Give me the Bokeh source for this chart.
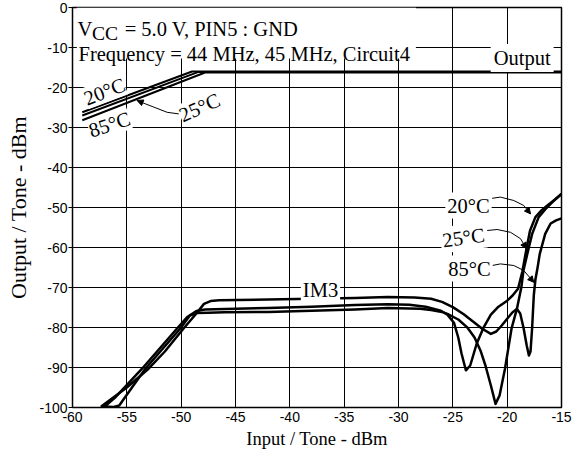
from bokeh.plotting import figure
from bokeh.models import Label, BoxAnnotation, Arrow, NormalHead, Range1d, PrintfTickFormatter
from bokeh.embed import file_html
from bokeh.resources import INLINE

# ---- axes ----
x_ticks = [-60, -55, -50, -45, -40, -35, -30, -25, -20, -15]
y_ticks = [0, -10, -20, -30, -40, -50, -60, -70, -80, -90, -100]

# ---- Output / Tone curves ----
out20_x = [-59.1, -49.0, -15.0]
out20_y = [-26.2, -16.0, -16.0]
out25_x = [-59.1, -48.4, -15.0]
out25_y = [-27.0, -16.1, -16.1]
out85_x = [-59.1, -47.8, -15.0]
out85_y = [-28.2, -16.25, -16.25]

# ---- IM3 curves ----
im3_20_x = [-57.1, -56.0, -53.6, -50.4, -49.4, -48.6, -47.8, -45.0, -42.0, -38.0, -34.0,
            -31.0, -29.0, -27.5, -26.1, -25.5, -24.9, -24.5, -24.2, -23.8, -23.4, -22.8,
            -22.15, -21.5, -20.8, -20.0, -19.5, -19.0, -18.6, -18.2, -17.9, -17.4, -16.8,
            -16.3, -15.6, -15.0]
im3_20_y = [-99.9, -97.3, -90.3, -80.3, -77.3, -75.9, -75.5, -75.3, -75.1, -74.8, -74.4,
            -74.2, -74.3, -74.8, -75.8, -76.8, -78.8, -82.5, -86.5, -90.7, -89.5, -84.0,
            -79.9, -76.8, -74.8, -73.3, -72.0, -70.3, -66.0, -60.0, -55.8, -52.4, -50.6,
            -49.5, -48.0, -46.6]

im3_25_x = [-57.3, -56.3, -55.7, -55.0, -53.3, -50.1, -49.2, -48.6, -47.5, -46.0, -42.0,
            -38.0, -34.0, -31.0, -28.0, -27.0, -26.0, -25.5, -24.5, -23.7, -23.0, -22.45,
            -22.0, -21.5, -21.07, -20.7, -20.2, -19.6, -19.1, -18.7, -18.5, -18.0, -17.7,
            -17.1, -16.5, -16.0, -15.5, -15.0]
im3_25_y = [-99.7, -99.9, -99.5, -96.8, -90.3, -80.3, -77.0, -76.4, -76.3, -76.2, -76.1,
            -75.8, -75.5, -75.1, -75.3, -75.6, -76.1, -76.6, -78.0, -79.9, -82.5, -85.8,
            -89.5, -94.5, -99.1, -97.0, -90.3, -80.3, -75.3, -70.0, -65.75, -59.9, -56.6,
            -52.4, -50.5, -49.1, -47.8, -46.6]

im3_85_x = [-57.3, -55.0, -53.0, -51.5, -49.8, -48.6, -47.9, -47.3, -46.5, -42.0, -38.0,
            -34.0, -31.0, -28.5, -27.0, -26.0, -25.0, -24.0, -23.0, -22.3, -21.5, -21.0,
            -20.5, -20.0, -19.5, -19.1, -18.8, -18.5, -18.2, -18.0, -17.85, -17.7, -17.55,
            -17.4, -17.2, -17.0, -16.5, -16.0, -15.5, -15.0]
im3_85_y = [-99.6, -95.0, -90.3, -86.0, -80.3, -76.5, -74.1, -73.4, -73.2, -73.0, -72.8,
            -72.6, -72.4, -72.5, -72.8, -73.6, -74.9, -76.7, -78.8, -80.3, -81.6, -81.0,
            -79.5, -77.8, -76.2, -75.4, -76.5, -80.0, -84.5, -87.0, -86.0, -80.0, -72.0,
            -68.0, -65.0, -61.6, -56.6, -54.0, -53.2, -52.7]

# ---- annotation anchors (data units) ----
arr20_x = [-21.38, -20.62, -19.39, -18.47, -17.85]
arr20_y = [-47.7, -47.4, -48.25, -49.5, -51.6]
arr25_x = [-21.84, -20.92, -19.69, -18.77, -18.22]
arr25_y = [-55.75, -55.5, -56.2, -57.8, -60.3]
arr85_x = [-21.38, -20.62, -19.39, -18.47, -17.55]
arr85_y = [-64.5, -64.1, -64.5, -65.75, -68.7]
arrL_x = [-50.22, -51.29, -52.52, -53.28, -54.05]
arrL_y = [-26.6, -26.2, -24.9, -24.1, -23.25]

SERIF = "Liberation Serif"
SANS = "Liberation Sans"
DEG = "°C"

p = figure(width=578, height=457, output_backend="svg", toolbar_location=None,
           x_range=Range1d(-60, -15), y_range=Range1d(-100, 0),
           min_border_left=72, min_border_right=17, min_border_top=7, min_border_bottom=50)
p.background_fill_color = "white"
p.border_fill_color = "white"
p.outline_line_color = "black"
p.outline_line_width = 1.5

for ax in (p.xaxis, p.yaxis):
    ax.axis_line_color = "black"
    ax.major_label_text_font = SANS
    ax.major_label_text_font_size = "14px"
    ax.major_label_text_color = "black"
    ax.axis_label_text_font = SERIF
    ax.axis_label_text_font_style = "normal"
    ax.axis_label_text_color = "black"
    ax.minor_tick_line_color = None
    ax.major_tick_in = 0
    ax.formatter = PrintfTickFormatter(format="%d")

p.xaxis.axis_label_text_font_size = "18.5px"
p.yaxis.axis_label_text_font_size = "22px"
p.xaxis.ticker = x_ticks
p.yaxis.ticker = y_ticks
p.xgrid.ticker = x_ticks
p.ygrid.ticker = y_ticks
p.xaxis.major_tick_out = 0
p.xaxis.major_label_standoff = 4
p.yaxis.major_tick_out = 4
p.yaxis.major_label_standoff = 1
p.xaxis.axis_label = "Input / Tone - dBm"
p.yaxis.axis_label = "Output / Tone - dBm"
p.xaxis.axis_label_standoff = 4
p.yaxis.axis_label_standoff = 5
for g in (p.xgrid, p.ygrid):
    g.grid_line_color = "black"
    g.grid_line_alpha = 1.0
    g.grid_line_width = 1

# curves
for xs, ys in ((out20_x, out20_y), (out25_x, out25_y), (out85_x, out85_y)):
    p.line(xs, ys, line_color="black", line_width=2, line_join="round")
for xs, ys in ((im3_20_x, im3_20_y), (im3_25_x, im3_25_y), (im3_85_x, im3_85_y)):
    p.line(xs, ys, line_color="black", line_width=2.5, line_join="round", line_cap="round")

# header box
p.add_layout(BoxAnnotation(left=-59.6, right=-28.4, top=0, bottom=-12.75,
                           fill_color="white", fill_alpha=1, line_alpha=0))

def lab(x, y, text, size="20.5px", align="left", baseline="alphabetic", angle=0, bg=None, pad=0):
    kw = dict(x=x, y=y, text=text, text_font=SERIF, text_font_size=size, text_color="black",
              text_align=align, text_baseline=baseline, angle=angle, angle_units="deg")
    if bg:
        kw.update(background_fill_color=bg, padding=pad)
    p.add_layout(Label(**kw))

lab(-59.55, -5.3, "V")
lab(-58.2, -6.6, "CC", size="19.5px")
lab(-55.2, -5.3, "= 5.0 V, PIN5 : GND")
lab(-59.45, -11.6, "Frequency = 44 MHz, 45 MHz, Circuit4")
lab(-18.62, -12.6, "Output", align="center", baseline="middle", bg="white", pad=3)
lab(-37.18, -70.5, "IM3", align="center", baseline="middle", bg="white", pad=2)

lab(-57.06, -21.0, "20" + DEG, align="center", baseline="middle", angle=21, bg="white", pad=0)
lab(-56.6, -29.25, "85" + DEG, align="center", baseline="middle", angle=18, bg="white", pad=0)
lab(-48.31, -25.0, "25" + DEG, align="center", baseline="middle", angle=24, bg="white", pad=0)

lab(-23.56, -49.5, "20" + DEG, align="center", baseline="middle", bg="white", pad=2)
lab(-24.02, -57.5, "25" + DEG, align="center", baseline="middle", angle=8, bg="white", pad=2)
lab(-23.47, -65.25, "85" + DEG, align="center", baseline="middle", bg="white", pad=2)

for xs, ys in ((arr20_x, arr20_y), (arr25_x, arr25_y), (arr85_x, arr85_y), (arrL_x, arrL_y)):
    p.line(xs, ys, line_color="black", line_width=1)
    p.add_layout(Arrow(end=NormalHead(size=6, fill_color="black", line_color="black"),
                       x_start=xs[-2], y_start=ys[-2], x_end=xs[-1], y_end=ys[-1],
                       line_alpha=0))

open("out.html", "w").write(file_html(p, INLINE))
